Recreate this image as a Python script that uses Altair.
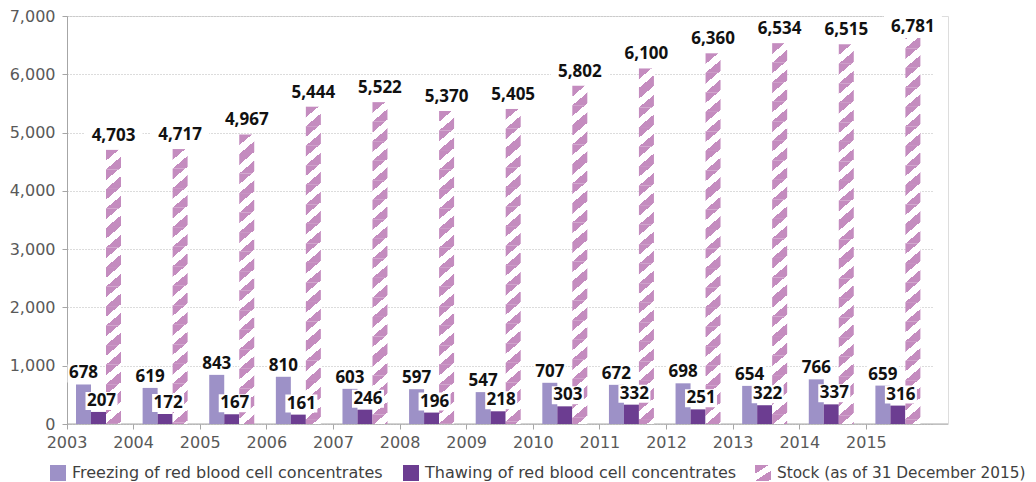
import math
import altair as alt
import pandas as pd

# ---------------- data ----------------
years = [str(y) for y in range(2003, 2016)]
freezing = [678, 619, 843, 810, 603, 597, 547, 707, 672, 698, 654, 766, 659]
thawing = [207, 172, 167, 161, 246, 196, 218, 303, 332, 251, 322, 337, 316]
stock = [4703, 4717, 4967, 5444, 5522, 5370, 5405, 5802, 6100, 6360, 6534, 6515, 6781]
series_names = [
    "Freezing of red blood cell concentrates",
    "Thawing of red blood cell concentrates",
    "Stock (as of 31 December 2015)",
]
y_ticks = [0, 1000, 2000, 3000, 4000, 5000, 6000, 7000]

# ---------------- style ----------------
FONT = "DejaVu Sans"
FONT_B = "Open Sans"
C_FREEZE = "#9d91c7"
C_THAW = "#6c3d91"
C_STOCK = "#c48cbf"
GRAY = "#a6a6a6"
PLOT_W, PLOT_H, Y_MAX = 881, 408, 7000
X_RANGE = 866
BAND = X_RANGE / len(years)
BAR_W = 15
OFF_F, OFF_T, OFF_S = -16.8, -1.8, 13.2   # pixel offsets from band centre
LABEL_CAP = Y_MAX * (1 - 25 / PLOT_H)      # keep stock labels inside the plot area

# hatch pattern for the stock bars: stacked cells with a diagonal-stripe gradient
SEG = 335                                  # data units per stripe period
cell_h = SEG * PLOT_H / Y_MAX
slope = 0.85
c = slope * BAR_W / cell_h
k = (c + 1) / (c * c + 1)
P = 1 / (c + 1)
f = 0.55
stops_t = [0, f * P, f * P, P, P, P + f * P, P + f * P, 1]
stops_c = [C_STOCK, C_STOCK, "white", "white", C_STOCK, C_STOCK, "white", "white"]
stock_grad = alt.LinearGradient(
    gradient="linear", x1=0, y1=0, x2=k * c, y2=k,
    stops=[alt.GradientStop(offset=o, color=col) for o, col in zip(stops_t, stops_c)],
)

# ---------------- tables ----------------
rows = []
for i, yr in enumerate(years):
    rows.append({"year": yr, "series": series_names[0], "value": freezing[i]})
    rows.append({"year": yr, "series": series_names[1], "value": thawing[i]})
    rows.append({"year": yr, "series": series_names[2], "value": stock[i]})
df = pd.DataFrame(rows)

seg_rows = []
for yr, v in zip(years, stock):
    n = math.ceil(v / SEG)
    for j in range(n):
        seg_rows.append({"year": yr, "top": v - j * SEG, "bot": v - (j + 1) * SEG,
                         "stock_key": series_names[2]})
df_seg = pd.DataFrame(seg_rows)

# ---------------- encodings ----------------
x_enc = alt.X(
    "year:O",
    scale=alt.Scale(range=[0, X_RANGE], paddingInner=0, paddingOuter=0),
    axis=alt.Axis(
        title=None, bandPosition=0, domain=False, ticks=True, tickSize=5,
        tickColor=GRAY, labelAngle=0, labelAlign="center", labelOffset=-BAND / 2,
        labelFont=FONT, labelFontSize=16, labelColor="#595959", labelPadding=5,
        grid=False,
    ),
)
y_scale = alt.Scale(domain=[0, Y_MAX], nice=False)
y_axis = alt.Axis(
    title=None, values=y_ticks, format=",d", grid=True, gridDash=[1, 2],
    gridColor="#b8b8b8", domainColor=GRAY, tickColor=GRAY, tickSize=5,
    labelPadding=7, labelFont=FONT, labelFontSize=16, labelColor="#595959",
)


def Y(field):
    return alt.Y(field, scale=y_scale, axis=y_axis)


leg_common = dict(
    title=None, orient="none", legendY=449, direction="horizontal",
    symbolSize=256, symbolStrokeWidth=0, symbolType="square",
    labelFont=FONT, labelColor="#404040", labelOffset=6,
    columnPadding=20, labelLimit=600, padding=0,
)
color_enc = alt.Color(
    "series:N",
    scale=alt.Scale(domain=series_names[:2], range=[C_FREEZE, C_THAW]),
    legend=alt.Legend(legendX=-17, labelFontSize=16, **leg_common),
)
stock_legend_enc = alt.Opacity(
    "stock_key:N",
    scale=alt.Scale(domain=[series_names[2]], range=[1]),
    legend=alt.Legend(legendX=688, labelFontSize=15.3, **leg_common),
)

base = alt.Chart(df)
f_only = alt.datum.series == series_names[0]
t_only = alt.datum.series == series_names[1]
s_only = alt.datum.series == series_names[2]

baseline = alt.Chart(pd.DataFrame({"value": [0]})).mark_rule(color=GRAY).encode(y=Y("value:Q"))

bars_f = base.transform_filter(f_only).mark_bar(width=BAR_W, xOffset=OFF_F).encode(
    x=x_enc, y=Y("value:Q"), color=color_enc)
bars_t = base.transform_filter(t_only).mark_bar(width=BAR_W, xOffset=OFF_T).encode(
    x=x_enc, y=Y("value:Q"), color=color_enc)
bars_s = alt.Chart(df_seg).mark_bar(width=BAR_W, xOffset=OFF_S, fill=stock_grad, clip=True).encode(
    x=x_enc, y=Y("top:Q"), y2="bot:Q", opacity=stock_legend_enc)

box_f = base.transform_filter(f_only).mark_bar(
    color="white", width=32, xOffset=OFF_F, yOffset=-20, y2Offset=-2).encode(
    x=x_enc, y=Y("value:Q"), y2="value:Q")
box_t = base.transform_filter(t_only).mark_bar(
    color="white", width=32, xOffset=OFF_T + 3, yOffset=-20, y2Offset=-2).encode(
    x=x_enc, y=Y("value:Q"), y2="value:Q")
stock_lab = base.transform_filter(s_only).transform_calculate(
    ly="min(datum.value, %f)" % LABEL_CAP)
box_s = stock_lab.mark_bar(
    color="white", width=58, xOffset=OFF_S, yOffset=-25, y2Offset=-3).encode(
    x=x_enc, y=Y("ly:Q"), y2="ly:Q")

txt_style = dict(font=FONT_B, fontSize=17, fontWeight="bold", color="#111111", baseline="middle")
txt_f = base.transform_filter(f_only).mark_text(dx=OFF_F, dy=-11, **txt_style).encode(
    x=x_enc, y=Y("value:Q"), text=alt.Text("value:Q", format=","))
txt_t = base.transform_filter(t_only).mark_text(dx=OFF_T + 3, dy=-11, **txt_style).encode(
    x=x_enc, y=Y("value:Q"), text=alt.Text("value:Q", format=","))
txt_s = stock_lab.mark_text(dx=OFF_S, dy=-14, **txt_style).encode(
    x=x_enc, y=Y("ly:Q"), text=alt.Text("value:Q", format=","))

chart = alt.layer(
    baseline, bars_f, bars_t, bars_s, box_f, box_t, box_s, txt_f, txt_t, txt_s
).properties(
    width=PLOT_W, height=PLOT_H,
    padding={"left": 59, "top": 8, "right": 80, "bottom": 58},
    autosize=alt.AutoSizeParams(type="none"),
).configure_view(stroke=None).configure(background="white")

chart.save("out.html", embed_options={"renderer": "svg", "actions": False})
